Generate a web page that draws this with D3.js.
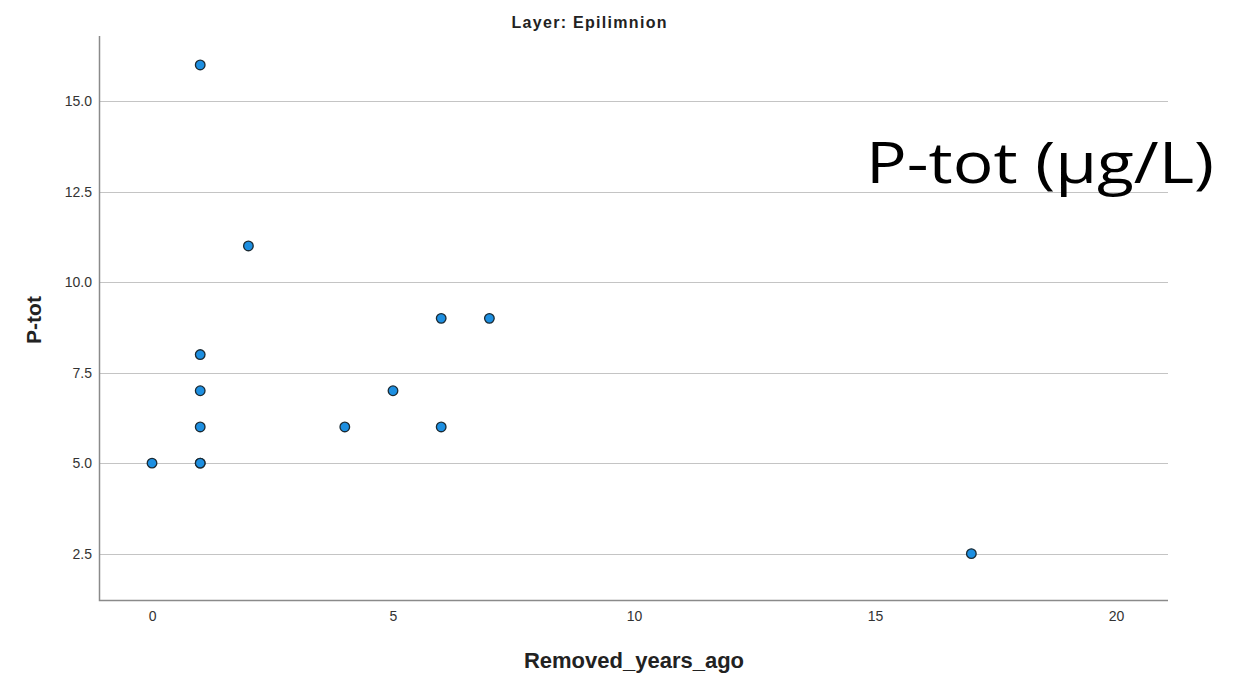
<!DOCTYPE html>
<html>
<head>
<meta charset="utf-8">
<style>
  body { margin: 0; background: #fff; }
  svg text { font-family: "Liberation Sans", Arial, sans-serif; }
</style>
</head>
<body>
<svg id="chart" width="1243" height="684"></svg>
<script src="https://d3js.org/d3.v7.min.js"></script>
<script>
// values
var removedYears = [0, 1, 1, 1, 1, 1, 1, 2, 4, 5, 6, 6, 7, 17];
var pTot         = [5, 16, 8, 7, 6, 5, 5, 11, 6, 7, 9, 6, 9, 2.5];
var xTicks = [0, 5, 10, 15, 20];
var yTicks = [2.5, 5.0, 7.5, 10.0, 12.5, 15.0];

var svg = d3.select("#chart"),
    margin = {top: 36, right: 75, bottom: 84, left: 99},
    width = +svg.attr("width") - margin.left - margin.right,
    height = +svg.attr("height") - margin.top - margin.bottom,
    g = svg.append("g").attr("transform", "translate(" + margin.left + "," + margin.top + ")");

var x = d3.scaleLinear().domain([-1.1, 21.08]).range([0, width]);
var y = d3.scaleLinear().domain([1.22, 16.8]).range([height, 0]);

// horizontal grid lines
g.append("g")
    .selectAll("line")
    .data(yTicks)
  .join("line")
    .attr("x1", 0)
    .attr("x2", width)
    .attr("y1", function(d) { return Math.round(y(d)) + 0.5; })
    .attr("y2", function(d) { return Math.round(y(d)) + 0.5; })
    .attr("stroke", "#c4c4c4")
    .attr("stroke-width", 1.2);

// axes
var yAxis = g.append("g")
    .call(d3.axisLeft(y).tickValues(yTicks).tickFormat(d3.format(".1f")).tickSize(0).tickPadding(7));
yAxis.select(".domain").remove();
yAxis.selectAll("text").attr("fill", "#333").style("font-size", "14px");

var xAxis = g.append("g")
    .attr("transform", "translate(0," + height + ")")
    .call(d3.axisBottom(x).tickValues(xTicks).tickSize(0).tickPadding(11));
xAxis.select(".domain").remove();
xAxis.selectAll("text").attr("fill", "#333").style("font-size", "14px");

g.append("path")
    .attr("d", "M0.5,0V" + (height + 0.5) + "H" + width)
    .attr("fill", "none")
    .attr("stroke", "#8a8a8a")
    .attr("stroke-width", 1.5);

// points
g.append("g")
    .selectAll("circle")
    .data(removedYears.map(function(v, i) { return [v, pTot[i]]; }))
  .join("circle")
    .attr("cx", function(d) { return x(d[0]); })
    .attr("cy", function(d) { return y(d[1]); })
    .attr("r", 4.8)
    .attr("fill", "#1d8fe1")
    .attr("stroke", "#1b2a33")
    .attr("stroke-width", 1.3);

// titles
svg.append("text")
    .attr("x", 589)
    .attr("y", 28)
    .attr("text-anchor", "middle")
    .style("font-weight", "bold")
    .style("font-size", "16px")
    .attr("textLength", 155)
    .attr("lengthAdjust", "spacing")
    .attr("fill", "#222")
    .text("Layer: Epilimnion");

svg.append("text")
    .attr("x", 634)
    .attr("y", 668)
    .attr("text-anchor", "middle")
    .style("font-weight", "bold")
    .style("font-size", "22px")
    .attr("fill", "#222")
    .text("Removed_years_ago");

svg.append("text")
    .attr("transform", "translate(41,320) rotate(-90)")
    .attr("text-anchor", "middle")
    .style("font-weight", "bold")
    .style("font-size", "21px")
    .attr("fill", "#222")
    .text("P-tot");

svg.append("text")
    .attr("x", 866)
    .attr("y", 183)
    .style("font-family", "'Open Sans', 'Noto Sans', sans-serif")
    .style("font-size", "56px")
    .attr("textLength", 348)
    .attr("lengthAdjust", "spacingAndGlyphs")
    .attr("fill", "#000")
    .text("P-tot (µg/L)");
</script>
</body>
</html>
